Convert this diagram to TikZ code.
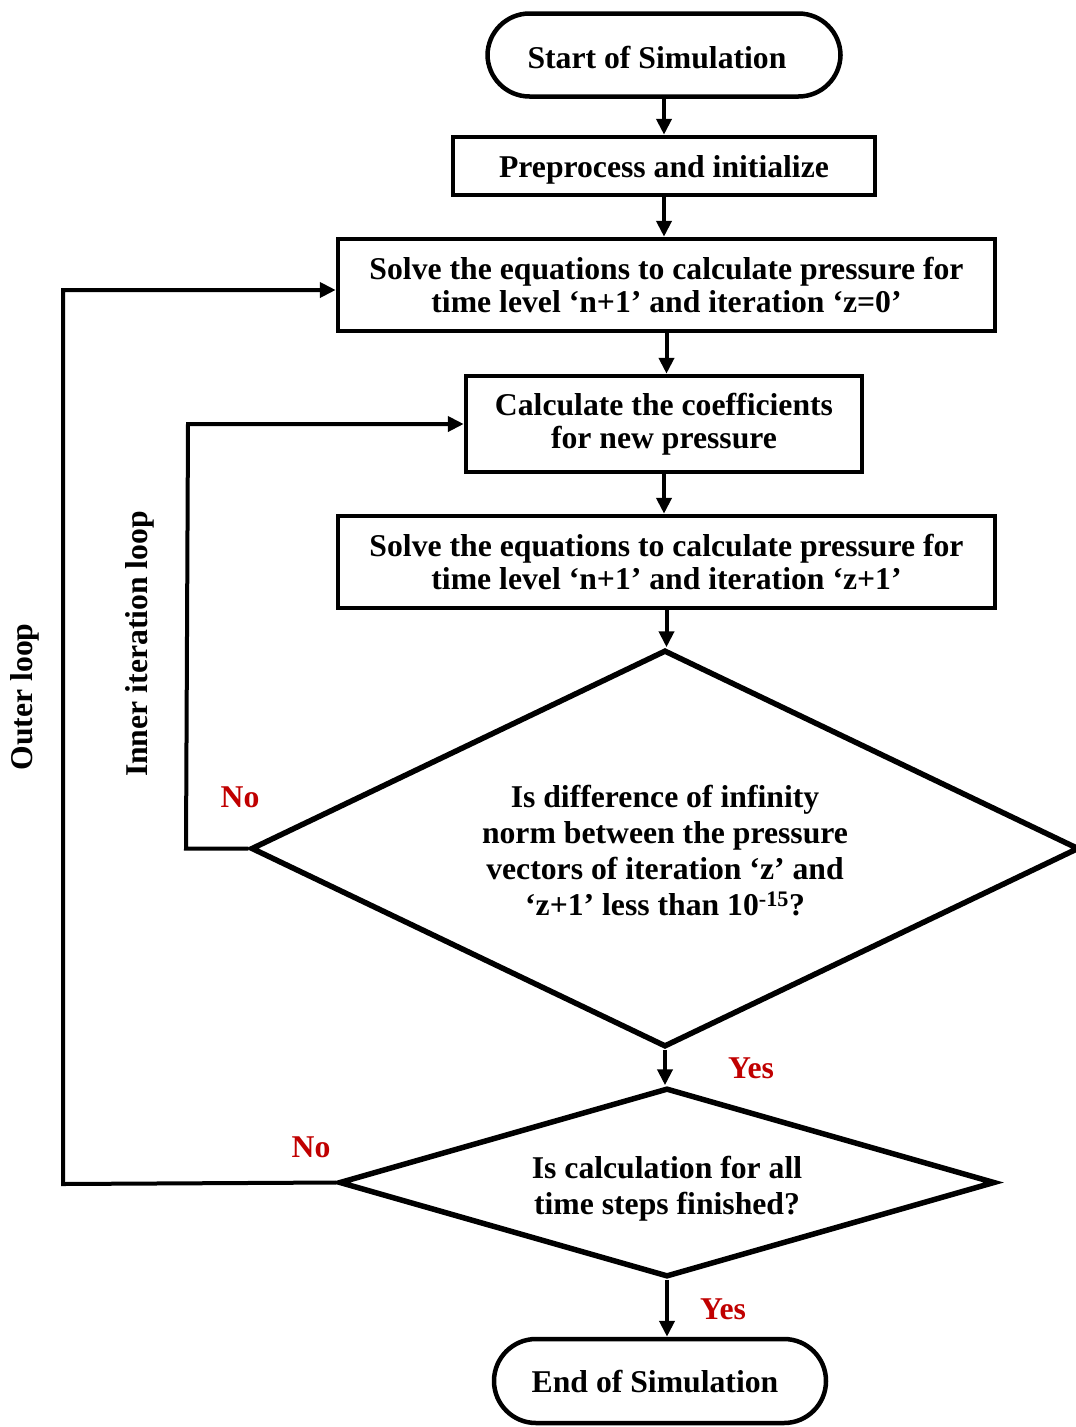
\documentclass[tikz,border=0pt]{standalone}
\usepackage{fontspec}
\setmainfont{Liberation Serif}
\usetikzlibrary{arrows.meta,shapes.geometric}
\definecolor{nored}{HTML}{C00000}
\begin{document}
\begin{tikzpicture}[x=1pt,y=-1pt,
  every node/.style={font=\fontsize{31.7}{33}\selectfont\bfseries},
  proc/.style={draw, line width=4.5pt, rectangle, align=center, inner sep=0pt},
  term/.style={draw, line width=4.5pt, rounded corners=42pt, inner sep=0pt},
  decide/.style={draw, line width=5.5pt, diamond, inner sep=0pt},
  dtext/.style={align=center, inner sep=0pt, font=\fontsize{31.7}{36}\selectfont\bfseries},
  arr/.style={line width=4pt, -{Triangle[length=16pt,width=15pt]}},
  lab/.style={text=nored},
  vlab/.style={rotate=90},
]
\useasboundingbox (0,0) rectangle (1076,1427);

\node[term, minimum width=353pt, minimum height=83pt, text height=26pt, text depth=0pt] (start) at (664,55) {Start of Simulation\kern14pt};
\node[proc, minimum width=422pt, minimum height=58pt, text height=22pt, text depth=0pt] (pre) at (664,166) {Preprocess and initialize};
\node[proc, minimum width=657pt, minimum height=92pt] (s0) at (666.5,285) {Solve the equations to calculate pressure for\\time level ‘n+1’ and iteration ‘z=0’};
\node[proc, minimum width=396pt, minimum height=96pt] (coef) at (664,424) {Calculate the coefficients\\for new pressure};
\node[proc, minimum width=657pt, minimum height=92pt] (s1) at (666.5,562) {Solve the equations to calculate pressure for\\time level ‘n+1’ and iteration ‘z+1’};
\node[decide, minimum width=828pt, minimum height=397pt] (d1) at (665,848.5) {};
\node[dtext] (d1t) at (665,851) {Is difference of infinity\\norm between the pressure\\vectors of iteration ‘z’ and\\‘z+1’ less than 10\textsuperscript{-15}?};
\node[decide, minimum width=656pt, minimum height=189pt] (d2) at (667,1182.5) {};
\node[dtext] (d2t) at (667,1189) {Is calculation for all\\time steps finished?};
\node[term, minimum width=332pt, minimum height=84pt, text height=22pt, text depth=0pt] (end) at (660,1381) {End of Simulation\kern10pt};

\draw[arr] (start.south) -- (start.south |- pre.north);
\draw[arr] (pre.south) -- (pre.south |- s0.north);
\draw[arr] (s0.south) -- (s0.south |- coef.north);
\draw[arr] (coef.south) -- (coef.south |- s1.north);
\draw[arr] (s1.south) -- (s1.south |- d1.north);
\draw[arr] (d1.south) -- (d1.south |- d2.north);
\draw[arr] (d2.south) -- (d2.south |- end.north);

\coordinate (o1) at (63,1184);
\coordinate (o2) at (63,290);
\draw[arr] (d2.west) -- (o1) -- (o2) -- (o2 -| s0.west);
\coordinate (i1) at (186,848.5);
\coordinate (i2) at (188,424);
\draw[arr] (d1.west) -- (i1) -- (i2) -- (i2 -| coef.west);

\node[lab] (no1) at (240,797) {No};
\node[lab] (no2) at (311,1147) {No};
\node[lab] (yes1) at (751,1068) {Yes};
\node[lab] (yes2) at (723,1309) {Yes};
\node[vlab] (outer) at (25,697) {Outer loop};
\node[vlab] (inner) at (140,644) {Inner iteration loop};
\end{tikzpicture}
\end{document}
